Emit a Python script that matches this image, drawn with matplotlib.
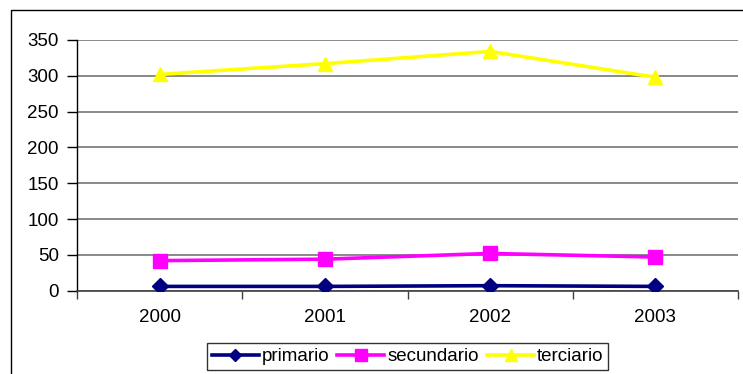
import matplotlib
matplotlib.use("Agg")
import matplotlib.pyplot as plt
from matplotlib.patches import Rectangle
import numpy as np

plt.rcParams['font.family'] = ['Liberation Sans', 'DejaVu Sans']

years = ["2000", "2001", "2002", "2003"]
primario = [6, 6, 7, 6]
secundario = [42, 44, 52, 47]
terciario = [302, 317, 334, 298]
y_ticks = [0, 50, 100, 150, 200, 250, 300, 350]

W, H = 743, 374
FS = 13.5
fig = plt.figure(figsize=(W / 100, H / 100), dpi=100)
fig.patch.set_facecolor("white")

# outer chart frame
fig.patches.append(Rectangle((11 / W, -0.1), 1.2, (H - 10) / H + 0.1,
                             transform=fig.transFigure, fill=False,
                             edgecolor="black", linewidth=1.0))

ax = fig.add_axes([77 / W, (H - 290.7) / H, (738 - 77) / W, 250.7 / H])
x = np.arange(len(years))

ax.plot(x, primario, color="#000080", lw=2.6, marker="D", ms=8,
        label="primario", zorder=5)
ax.plot(x, secundario, color="#FF00FF", lw=2.6, marker="s", ms=10,
        label="secundario", zorder=4)
ax.plot(x, terciario, color="#FFFF00", lw=2.6, marker="^", ms=10,
        label="terciario", zorder=3)

ax.set_xlim(-0.5, len(years) - 0.5)
ax.set_ylim(0, 350)
ax.set_yticks(y_ticks)
ax.set_yticklabels([str(v) for v in y_ticks], fontsize=FS)
ax.yaxis.grid(True, color="#808080", linewidth=1.3)
ax.set_axisbelow(True)

# category labels in the middle, tick marks on the boundaries
ax.set_xticks(x)
ax.set_xticklabels(years, fontsize=FS)
ax.tick_params(axis="x", which="major", length=0, pad=13)
ax.set_xticks(np.arange(-0.5, len(years)), minor=True)
ax.tick_params(axis="x", which="minor", length=6, width=1, direction="out",
               color="#404040")
ax.tick_params(axis="y", length=7, width=1, direction="out", pad=6)

for s in ["top", "right"]:
    ax.spines[s].set_visible(False)
ax.spines["left"].set_color("black")
ax.spines["left"].set_linewidth(1.0)
ax.spines["bottom"].set_color("#404040")
ax.spines["bottom"].set_linewidth(1.2)
ax.set_facecolor("white")

handles, labels = ax.get_legend_handles_labels()
leg = fig.legend(handles, labels, loc="center",
                 bbox_to_anchor=(407.5 / W, (H - 356.5) / H),
                 ncol=3, fontsize=FS, frameon=True, fancybox=False,
                 edgecolor="black", handlelength=2.5, handletextpad=0.15,
                 columnspacing=0.45, borderpad=0.25, borderaxespad=0,
                 markerscale=0.8)
leg.get_frame().set_linewidth(1.0)

fig.savefig("out.png", dpi=100)
